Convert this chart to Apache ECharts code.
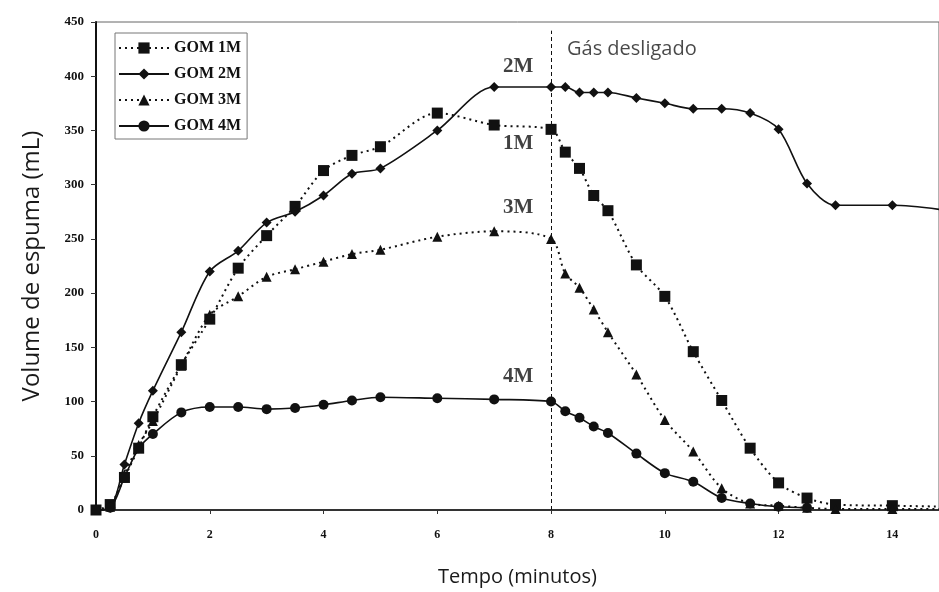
<!DOCTYPE html>
<html>
<head>
<meta charset="utf-8">
<script src="https://cdn.jsdelivr.net/npm/echarts@6/dist/echarts.min.js"></script>
<style>
  html, body { margin: 0; padding: 0; background: #fff; }
  #chart { width: 939px; height: 592px; }
</style>
</head>
<body>
<div id="chart"></div>
<script>
// tempo (minutos) shared by all series
const tempo = [0, 0.25, 0.5, 0.75, 1, 1.5, 2, 2.5, 3, 3.5, 4, 4.5, 5, 6, 7, 8,
  8.25, 8.5, 8.75, 9, 9.5, 10, 10.5, 11, 11.5, 12, 12.5, 13, 14, 15];

// volume de espuma (mL)
const gom1M = [0, 5, 30, 57, 86, 134, 176, 223, 253, 280, 313, 327, 335, 366, 355, 351,
  330, 315, 290, 276, 226, 197, 146, 101, 57, 25, 11, 5, 4, 3];
const gom2M = [0, 2, 42, 80, 110, 164, 220, 239, 265, 275, 290, 310, 315, 350, 390, 390,
  390, 385, 385, 385, 380, 375, 370, 370, 366, 351, 301, 281, 281, 276];
const gom3M = [0, 3, 33, 60, 82, 133, 180, 197, 215, 222, 229, 236, 240, 252, 257, 250,
  218, 205, 185, 164, 125, 83, 54, 20, 6, 4, 2, 1, 1, 1];
const gom4M = [0, 2, 30, 57, 70, 90, 95, 95, 93, 94, 97, 101, 104, 103, 102, 100,
  91, 85, 77, 71, 52, 34, 26, 11, 6, 3, 2, null, null, null];

const seriesNames = ["GOM 1M", "GOM 2M", "GOM 3M", "GOM 4M"];
const xTicks = [0, 2, 4, 6, 8, 10, 12, 14];

// curve labels (text, tempo, volume)
const curveLabels = [
  ["2M", 7.42, 409],
  ["1M", 7.42, 338],
  ["3M", 7.42, 279],
  ["4M", 7.42, 123],
];
const gasOff = 8;
const gasLabel = ["Gás desligado", 8.28, 425];

const ink = "#111";
const serif = "'Liberation Serif', 'DejaVu Serif', serif";
const sans = "'Open Sans', 'Noto Sans', sans-serif";

function pairs(values) {
  return tempo.map((t, i) => [t, values[i]]);
}

function lineSeries(name, values, symbol, size, dotted) {
  return {
    name,
    type: "line",
    data: pairs(values),
    smooth: 0.3,
    symbol,
    symbolSize: size,
    showAllSymbol: true,
    lineStyle: { color: ink, width: dotted ? 2 : 1.6, type: dotted ? [2, 4] : "solid" },
    itemStyle: { color: ink },
    z: 3,
  };
}

const chart = echarts.init(document.getElementById("chart"));

const series = [
  lineSeries(seriesNames[0], gom1M, "rect", 11, true),
  lineSeries(seriesNames[1], gom2M, "diamond", 10, false),
  lineSeries(seriesNames[2], gom3M, "triangle", 10, true),
  lineSeries(seriesNames[3], gom4M, "circle", 10, false),
];

series[0].markLine = {
  silent: true,
  symbol: "none",
  label: { show: false },
  lineStyle: { color: ink, type: [4, 3], width: 1 },
  data: [[{ coord: [gasOff, 0] }, { coord: [gasOff, 442] }]],
};

series.push({
  type: "scatter",
  symbolSize: 0,
  silent: true,
  data: curveLabels.map((l) => ({ value: [l[1], l[2]], name: l[0] })),
  label: {
    show: true,
    formatter: "{b}",
    position: "inside",
    color: ink,
    fontFamily: serif,
    fontWeight: "bold",
    fontSize: 21,
  },
});

series.push({
  type: "scatter",
  symbolSize: 0,
  silent: true,
  data: [{ value: [gasLabel[1], gasLabel[2]], name: gasLabel[0] }],
  label: {
    show: true,
    formatter: "{b}",
    position: "right",
    distance: 0,
    color: "#1a1a1a",
    fontFamily: sans,
    fontSize: 20,
  },
});

chart.setOption({
  animation: false,
  textStyle: { fontFamily: serif },
  grid: {
    left: 96,
    top: 22,
    bottom: 80,
    right: 0,
    show: true,
    borderColor: "#666",
    borderWidth: 1,
  },
  legend: {
    data: seriesNames,
    orient: "vertical",
    left: 115,
    top: 33,
    padding: [7, 6, 5, 3],
    itemGap: 10,
    itemWidth: 50,
    itemHeight: 14,
    borderColor: "#777",
    borderWidth: 1,
    textStyle: { color: ink, fontFamily: serif, fontWeight: "bold", fontSize: 16 },
  },
  xAxis: {
    type: "value",
    min: 0,
    max: 14.82,
    interval: 2,
    name: "Tempo (minutos)",
    nameLocation: "middle",
    nameGap: 57,
    nameTextStyle: { fontFamily: sans, fontSize: 20, color: "#1a1a1a" },
    axisLine: { lineStyle: { color: "#333", width: 2 } },
    axisTick: { show: true, length: 4, lineStyle: { color: "#333" }, customValues: xTicks },
    axisLabel: {
      color: ink,
      fontFamily: serif,
      fontWeight: "bold",
      fontSize: 12,
      margin: 19,
      customValues: xTicks,
    },
    splitLine: { show: false },
  },
  yAxis: {
    type: "value",
    min: 0,
    max: 450,
    interval: 50,
    name: "Volume de espuma (mL)",
    nameLocation: "middle",
    nameGap: 52,
    nameTextStyle: { fontFamily: sans, fontSize: 24, color: "#1a1a1a" },
    axisLine: { show: true, lineStyle: { color: ink, width: 2 } },
    axisTick: { show: true, length: 5, lineStyle: { color: "#333" } },
    axisLabel: { color: ink, fontFamily: serif, fontWeight: "bold", fontSize: 13, margin: 12 },
    splitLine: { show: false },
  },
  series,
});
</script>
</body>
</html>
